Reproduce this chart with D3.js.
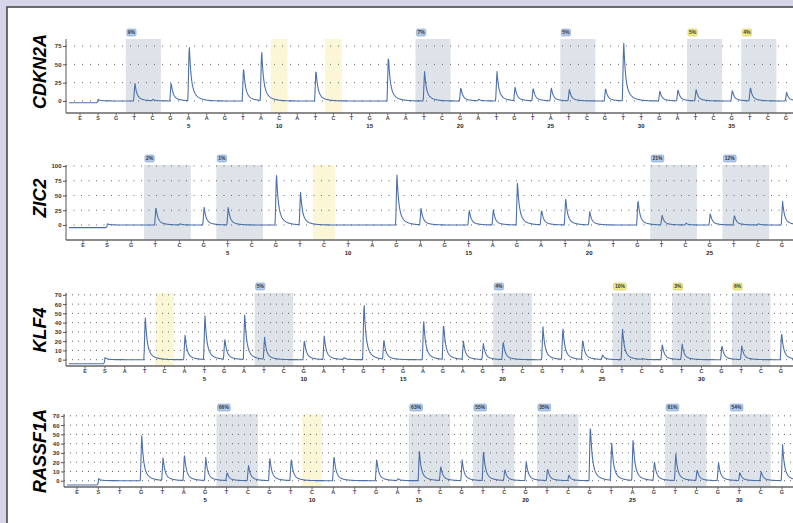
<!DOCTYPE html>
<html>
<head>
<meta charset="utf-8">
<script src="https://cdn.jsdelivr.net/npm/d3@7"></script>
<style>
    body { margin: 0; background: #d6d5ea; }
    svg { display: block; }
</style>
</head>
<body>
<div id="svg-container"></div>
<script>
/* pyrograms for the 4 genes */

let cdkn2aSeq = ["E","S","G","T","C","G","A","A","G","T","A","C","A","T","C","T","G","A","A","T",
    "C","G","A","T","G","T","A","T","C","G","T","T","G","A","T","C","G","T","C","G"];
let cdkn2aPeaks = [0,0,0,25,2,26,79,0,0,47,71,0,0,44,0,0,0,64,0,41,
    0,19,2,41,19,18,18,16,0,18,83,0,14,16,16,0,15,19,0,12];
let cdkn2aTicks = [0, 25, 50, 75];
let cdkn2aCpG = [[3, 4], [19, 20], [27, 28], [34, 35], [37, 38]];
let cdkn2aMeth = ["9%", "7%", "5%", "5%", "4%"];
let cdkn2aWarn = [false, false, false, true, true];
let cdkn2aCtrl = [11, 14];

let zic2Seq = ["E","S","G","T","C","G","T","C","G","T","C","T","A","G","A","G","T","A","G","A",
    "T","A","T","G","T","C","G","T","C","G"];
let zic2Peaks = [0,0,0,31,2,31,30,0,91,57,0,0,0,87,29,0,26,26,74,26,
    46,23,0,44,17,3,20,17,2,40];
let zic2Ticks = [0, 25, 50, 75, 100];
let zic2CpG = [[3, 4], [6, 7], [24, 25], [27, 28]];
let zic2Meth = ["2%", "1%", "21%", "12%"];
let zic2Warn = [false, false, false, false];
let zic2Ctrl = [10];

let klf4Seq = ["E","S","A","T","C","A","T","G","A","T","C","G","A","T","G","T","G","A","G","A",
    "G","T","C","G","T","A","G","T","C","G","T","C","G","T","C","G"];
let klf4Peaks = [0,0,0,48,0,27,49,23,51,24,0,22,26,2,64,21,0,44,40,20,
    18,20,0,36,35,22,5,34,1,17,17,0,16,15,0,30];
let klf4Ticks = [0, 10, 20, 30, 40, 50, 60, 70];
let klf4CpG = [[9, 10], [21, 22], [27, 28], [30, 31], [33, 34]];
let klf4Meth = ["5%", "4%", "10%", "3%", "6%"];
let klf4Warn = [false, false, true, true, true];
let klf4Ctrl = [4];

let rassf1aSeq = ["E","S","T","G","T","A","G","T","C","G","T","C","A","T","G","A","T","C","G","T",
    "C","G","T","C","G","T","A","G","T","C","G","T","C","G"];
let rassf1aPeaks = [0,0,0,51,25,29,25,9,17,25,24,0,28,0,24,2,32,16,23,33,
    12,21,13,6,62,42,45,21,29,12,20,9,10,39];
let rassf1aTicks = [0, 10, 20, 30, 40, 50, 60, 70];
let rassf1aCpG = [[7, 8], [16, 17], [19, 20], [22, 23], [28, 29], [31, 32]];
let rassf1aMeth = ["66%", "63%", "55%", "35%", "61%", "54%"];
let rassf1aWarn = [false, false, false, false, false, false];
let rassf1aCtrl = [11];

// signal level before the substrate step
let startLevel = [-2.5, -4.5, -4.3, -4.6];

let genes = [
    {name: "CDKN2A", seq: cdkn2aSeq, peaks: cdkn2aPeaks, ticks: cdkn2aTicks, cpg: cdkn2aCpG, meth: cdkn2aMeth, warn: cdkn2aWarn, ctrl: cdkn2aCtrl,
        dom: [-16.4, 84.6], rng: [113, 39], x0: 80, x1: 786, axisX: 66, labelY: 71.5, gap: 8},
    {name: "ZIC2", seq: zic2Seq, peaks: zic2Peaks, ticks: zic2Ticks, cpg: zic2CpG, meth: zic2Meth, warn: zic2Warn, ctrl: zic2Ctrl,
        dom: [-25.4, 101.7], rng: [240, 165], x0: 83, x1: 782, axisX: 66, labelY: 198, gap: 7.5},
    {name: "KLF4", seq: klf4Seq, peaks: klf4Peaks, ticks: klf4Ticks, cpg: klf4CpG, meth: klf4Meth, warn: klf4Warn, ctrl: klf4Ctrl,
        dom: [-6.8, 72], rng: [366, 293], x0: 85, x1: 781, axisX: 66, labelY: 330, gap: 6},
    {name: "RASSF1A", seq: rassf1aSeq, peaks: rassf1aPeaks, ticks: rassf1aTicks, cpg: rassf1aCpG, meth: rassf1aMeth, warn: rassf1aWarn, ctrl: rassf1aCtrl,
        dom: [-6.8, 72], rng: [487, 414], x0: 77, x1: 782, axisX: 64, labelY: 451, gap: 6}
];

let svg_width = 793, svg_height = 523;
let lineColor = "#4c70aa";

let svg = d3.select("#svg-container")
    .append("svg")
    .attr("width", svg_width)
    .attr("height", svg_height)
    .style("font-family", "'Liberation Sans', Arial, sans-serif");

svg.append("rect")
    .attr("width", svg_width)
    .attr("height", svg_height)
    .attr("fill", "#d6d5ea");
svg.append("rect")
    .attr("x", 7)
    .attr("y", 7)
    .attr("width", svg_width + 10)
    .attr("height", svg_height + 10)
    .attr("fill", "#fff")
    .attr("stroke", "#4a4a4a")
    .attr("stroke-width", 1.6);

// single peak: fast rise then exponential decay
let peakShape = function (d) {
    if (d < -1.3) return 0;
    if (d < 0) return 1 + d / 1.3;
    return 0.72 * Math.exp(-d / 1.7) + 0.28 * Math.exp(-d / 6);
};

genes.forEach(function (g, gi) {
    let x = d3.scalePoint()
        .domain(d3.range(g.seq.length))
        .range([g.x0, g.x1]);
    let y = d3.scaleLinear()
        .domain(g.dom)
        .range(g.rng);
    let step = x.step();
    let top = g.rng[1], bottom = g.rng[0];
    let panel = svg.append("g").attr("id", "panel-" + g.name);

    // control (yellow) dispensations
    panel.selectAll(".ctrl")
        .data(g.ctrl)
        .enter()
        .append("rect")
        .attr("x", function (d) { return x(d) - step * 0.46; })
        .attr("y", top)
        .attr("width", step * 0.92)
        .attr("height", bottom - top)
        .attr("fill", "#fbf6d6");

    // CpG sites
    panel.selectAll(".cpg")
        .data(g.cpg)
        .enter()
        .append("rect")
        .attr("x", function (d) { return x(d[0]) - step * 0.47; })
        .attr("y", top)
        .attr("width", function (d) { return x(d[1]) - x(d[0]) + step * 0.94; })
        .attr("height", bottom - top)
        .attr("fill", "#dde3e9");

    // gridlines
    panel.selectAll(".grid")
        .data(g.ticks)
        .enter()
        .append("line")
        .attr("x1", g.axisX)
        .attr("x2", svg_width)
        .attr("y1", function (d) { return y(d); })
        .attr("y2", function (d) { return y(d); })
        .attr("stroke", "#555")
        .attr("stroke-width", 0.9)
        .attr("stroke-dasharray", "1," + (g.gap - 1));

    // y axis
    let yAxis = d3.axisLeft(y)
        .tickValues(g.ticks)
        .tickSize(3)
        .tickPadding(1.5);
    let ya = panel.append("g")
        .attr("transform", "translate(" + g.axisX + ",0)")
        .call(yAxis);
    ya.select(".domain").remove();
    ya.selectAll("line").attr("stroke", "#555");
    ya.selectAll("text")
        .attr("font-size", "6px")
        .attr("font-weight", "bold")
        .attr("fill", "#333");
    panel.append("line")
        .attr("x1", g.axisX).attr("x2", g.axisX)
        .attr("y1", top).attr("y2", bottom)
        .attr("stroke", "#555")
        .attr("stroke-width", 1);

    // x axis with dispensation order
    panel.append("line")
        .attr("x1", g.axisX).attr("x2", svg_width)
        .attr("y1", bottom).attr("y2", bottom)
        .attr("stroke", "#666")
        .attr("stroke-width", 1.5);
    panel.selectAll(".xtick")
        .data(g.seq)
        .enter()
        .append("line")
        .attr("x1", function (d, i) { return x(i); })
        .attr("x2", function (d, i) { return x(i); })
        .attr("y1", bottom)
        .attr("y2", bottom + 2.5)
        .attr("stroke", "#666");
    panel.selectAll(".xlab")
        .data(g.seq)
        .enter()
        .append("text")
        .attr("x", function (d, i) { return x(i); })
        .attr("y", bottom + 6.5)
        .attr("text-anchor", "middle")
        .attr("font-size", "5.5px")
        .attr("font-weight", "bold")
        .attr("fill", function (d) { return d == "T" ? "#5a3a86" : "#444"; })
        .text(function (d) { return d; });
    panel.selectAll(".xnum")
        .data(d3.range(5, g.seq.length - 1, 5))
        .enter()
        .append("text")
        .attr("x", function (d) { return x(d + 1); })
        .attr("y", bottom + 15)
        .attr("text-anchor", "middle")
        .attr("font-size", "6px")
        .attr("font-weight", "bold")
        .attr("fill", "#222")
        .text(function (d) { return d; });

    // methylation percentage tags
    let tags = panel.selectAll(".tag")
        .data(g.cpg)
        .enter()
        .append("g")
        .attr("transform", function (d) {
            return "translate(" + (x(d[0]) - step * 0.47 + 1) + "," + (top - 10) + ")";
        });
    tags.append("rect")
        .attr("width", function (d, i) { return g.meth[i].length * 3.4 + 2.5; })
        .attr("height", 7)
        .attr("rx", 1.5)
        .attr("fill", function (d, i) { return g.warn[i] ? "#f1ec86" : "#b3cbea"; })
        .attr("stroke", function (d, i) { return g.warn[i] ? "#c9c25a" : "#7f9fcd"; })
        .attr("stroke-width", 0.6);
    tags.append("text")
        .attr("x", function (d, i) { return (g.meth[i].length * 3.4 + 2.5) / 2; })
        .attr("y", 5.2)
        .attr("text-anchor", "middle")
        .attr("font-size", "5px")
        .attr("font-weight", "bold")
        .attr("fill", "#333")
        .text(function (d, i) { return g.meth[i]; });

    // trace
    let sx = x(1);
    let pts = [];
    for (let px = g.axisX + 3; px <= svg_width; px += 0.4) {
        let v = px < sx ? startLevel[gi] : 0;
        v += 2.5 * peakShape(px - sx);
        g.peaks.forEach(function (h, i) {
            if (h > 0) v += h * peakShape(px - x(i) - 0.6);
        });
        pts.push([px, v]);
    }
    let line = d3.line()
        .x(function (d) { return d[0]; })
        .y(function (d) { return y(d[1]); });
    panel.append("path")
        .datum(pts)
        .attr("d", line)
        .attr("fill", "none")
        .attr("stroke", lineColor)
        .attr("stroke-width", 1.1)
        .attr("stroke-linejoin", "round");

    // gene name
    panel.append("text")
        .attr("transform", "translate(46," + g.labelY + ") rotate(-90)")
        .attr("text-anchor", "middle")
        .attr("font-size", "18px")
        .attr("font-weight", "bold")
        .attr("font-style", "italic")
        .attr("fill", "#000")
        .text(g.name);
});
</script>
</body>
</html>
